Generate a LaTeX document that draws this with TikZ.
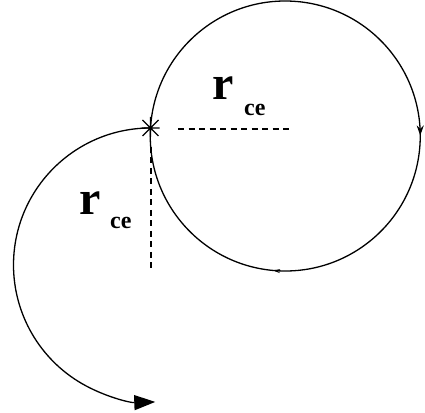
\documentclass[tikz,border=0pt]{standalone}
\usepackage{fontspec}
\setmainfont{Liberation Serif}
\usetikzlibrary{arrows.meta,decorations.markings,calc}
\tikzset{
  curve/.style={line width=1.3pt},
  radline/.style={line width=1.4pt, dash pattern=on 6pt off 4.5pt},
  bigr/.style={anchor=base west, inner sep=0pt, font=\fontsize{48}{48}\selectfont\bfseries},
  sub/.style={anchor=base west, inner sep=0pt, font=\fontsize{24}{24}\selectfont\bfseries},
  starline/.style={line width=1.1pt},
}
\begin{document}
\begin{tikzpicture}[x=1pt,y=1pt]
\useasboundingbox (0,0) rectangle (425,412);
% key points
\coordinate (C) at (286,276);
\coordinate (S) at (150.5,284);
\coordinate (hEnd) at (293,283);
\coordinate (hStart) at (178,283);
\coordinate (vStart) at (151,265);
\coordinate (vEnd) at (151,140);
% big circle, clockwise with small arrow marks
\draw[curve, postaction={decorate}, decoration={markings,
   mark=at position 0.49 with {\arrow{Stealth[length=10pt,width=7pt]}},
   mark=at position 0.755 with {\arrow{Stealth[length=7pt,width=4pt]}}}]
  (S) arc[start angle=176.6, end angle=-183.4, radius=135];
% left arc with arrow
\draw[curve, -{Triangle[length=21pt,width=15pt]}]
  (S) arc[start angle=90, end angle=272, radius=137];
% dashed radii
\draw[radline] (hStart) -- (hEnd);
\draw[radline] (vStart) -- (vEnd);
% star marker
\coordinate (s1) at ($(S)+(-9,0)$);
\coordinate (s2) at ($(S)+(9,0)$);
\coordinate (s3) at ($(S)+(0,-9)$);
\coordinate (s4) at ($(S)+(0,11)$);
\coordinate (s5) at ($(S)+(-8,8)$);
\coordinate (s6) at ($(S)+(8,-8)$);
\coordinate (s7) at ($(S)+(-8,-8)$);
\coordinate (s8) at ($(S)+(8,8)$);
\draw[starline] (s1) -- (s2) (s3) -- (s4) (s5) -- (s6) (s7) -- (s8);
% labels
\node[bigr] (r1) at (212,312) {r};
\node[sub] (c1) at (244,296) {ce};
\node[bigr] (r2) at (79,197) {r};
\node[sub] (c2) at (110,183) {ce};
\end{tikzpicture}
\end{document}
